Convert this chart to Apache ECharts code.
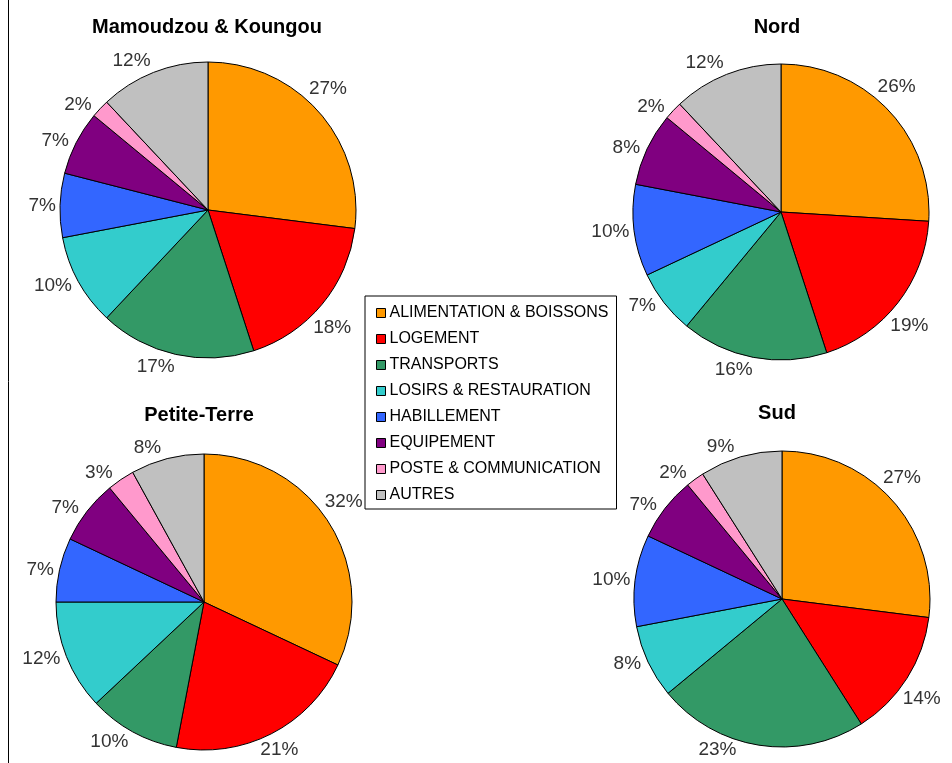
<!DOCTYPE html>
<html>
<head>
<meta charset="utf-8">
<script src="https://cdn.jsdelivr.net/npm/echarts@6/dist/echarts.min.js"></script>
<style>
  html, body { margin: 0; padding: 0; background: #fff; }
  #chart { width: 952px; height: 763px; }
</style>
</head>
<body>
<div id="chart"></div>
<script>
// categories (legend order = slice order, clockwise from 12 o'clock)
var categories = ['ALIMENTATION & BOISSONS', 'LOGEMENT', 'TRANSPORTS', 'LOSIRS & RESTAURATION',
  'HABILLEMENT', 'EQUIPEMENT', 'POSTE & COMMUNICATION', 'AUTRES']
var colors = ['#FF9900', '#FF0000', '#339966', '#33CCCC', '#3366FF', '#800080', '#FF99CC', '#C0C0C0']

var zones = ['Mamoudzou & Koungou', 'Nord', 'Petite-Terre', 'Sud']
// parts in %
var mamoudzou = [27, 18, 17, 10, 7, 7, 2, 12]
var nord = [26, 19, 16, 7, 10, 8, 2, 12]
var petiteTerre = [32, 21, 10, 12, 7, 7, 3, 8]
var sud = [27, 14, 23, 8, 10, 7, 2, 9]
var zoneValues = [mamoudzou, nord, petiteTerre, sud]

// layout of each pie (pixels)
var centers = [[208, 210], [781, 212], [204, 602], [782, 599]]
var titlePos = [[207, 17], [777, 17], [199, 405], [777, 403]]
var radius = 148
var chartHeight = 763

var chart = echarts.init(document.getElementById('chart'))

// mid angle of a slice, clockwise from 12 o'clock (radians)
function midAngle (values, idx) {
  var total = 0
  var before = 0
  for (var i = 0; i < values.length; i++) {
    total += values[i]
    if (i < idx) before += values[i]
  }
  return (before + values[idx] / 2) / total * Math.PI * 2
}

// label just outside the slice, a bit drifted to the left,
// and pushed along the circle if it would leave the bottom of the chart
function placeLabel (params) {
  var s = params.seriesIndex
  var a = midAngle(zoneValues[s], params.dataIndex)
  a -= 6 * Math.PI / 180 * Math.cos(a)
  var sx = Math.sin(a)
  var cy = Math.cos(a)
  var w = params.labelRect.width / 2
  var h = params.labelRect.height / 2
  var d = radius + 4 + w * Math.abs(sx) + 0.8 * h * Math.abs(cy)
  var dx = d * sx
  var dy = -d * cy
  var maxDy = chartHeight - 13 - centers[s][1]
  if (dy > maxDy) {
    dy = maxDy
    dx = (sx < 0 ? -1 : 1) * Math.sqrt(d * d - dy * dy)
  }
  return {
    x: centers[s][0] + dx,
    y: centers[s][1] + dy,
    align: 'center',
    verticalAlign: 'middle'
  }
}

var series = zoneValues.map(function (vals, s) {
  return {
    name: zones[s],
    type: 'pie',
    center: centers[s],
    radius: radius,
    startAngle: 90,
    clockwise: true,
    avoidLabelOverlap: false,
    animation: false,
    silent: true,
    data: vals.map(function (v, i) {
      return { name: categories[i], value: v }
    }),
    itemStyle: {
      borderColor: '#000',
      borderWidth: 1
    },
    label: {
      show: true,
      position: 'outside',
      formatter: '{c}%',
      fontFamily: 'Liberation Sans',
      fontSize: 19,
      color: '#333'
    },
    labelLine: { show: false, length: 0, length2: 0 },
    labelLayout: placeLabel
  }
})

var option = {
  color: colors,
  backgroundColor: '#fff',
  title: zones.map(function (z, s) {
    return {
      text: z,
      left: titlePos[s][0],
      top: titlePos[s][1],
      padding: 0,
      textAlign: 'center',
      textStyle: {
        fontFamily: 'Liberation Sans',
        fontSize: 20,
        fontWeight: 'bold',
        color: '#000'
      }
    }
  }),
  legend: {
    data: categories,
    orient: 'vertical',
    left: 365,
    top: 296,
    padding: [8, 8, 5, 11],
    itemWidth: 9,
    itemHeight: 9,
    itemGap: 8,
    icon: 'rect',
    selectedMode: false,
    borderColor: '#000',
    borderWidth: 1,
    itemStyle: { borderColor: '#000', borderWidth: 1 },
    textStyle: {
      fontFamily: 'Liberation Sans',
      fontSize: 16,
      lineHeight: 18,
      color: '#000',
      padding: [0, 0, 0, -1]
    }
  },
  graphic: [{
    type: 'line',
    shape: { x1: 8.5, y1: 0, x2: 8.5, y2: 763 },
    style: { stroke: '#000', lineWidth: 1 }
  }],
  series: series
}

chart.setOption(option)
</script>
</body>
</html>
